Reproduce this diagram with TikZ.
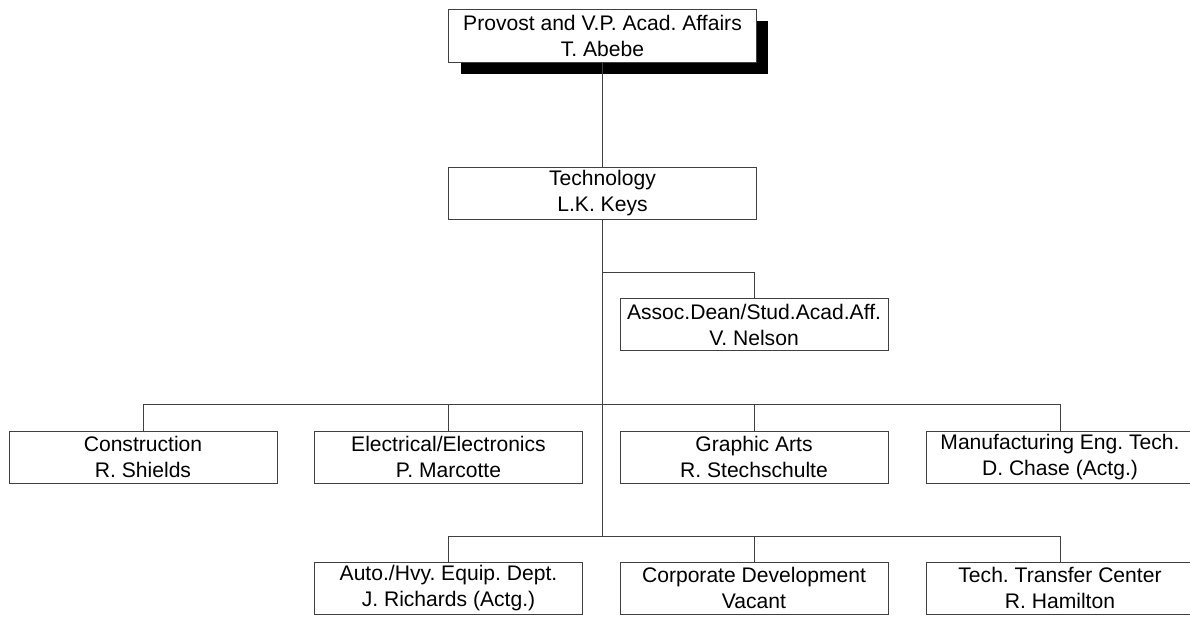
\documentclass[tikz,border=0pt]{standalone}
\usepackage{fontspec}
\setmainfont{Liberation Sans}
\usepackage{tikz}
\usetikzlibrary{shadows}
\frenchspacing

\begin{document}
\begin{tikzpicture}[
		orgbox/.style={rectangle,draw=black!75,line width=0.5pt,fill=white,align=center,
			inner sep=0pt,minimum width=5.36cm,minimum height=1.04cm,
			font=\fontsize{12}{14.8}\selectfont},
		widebox/.style={orgbox,minimum width=6.15cm},
		orgline/.style={draw=black!75,line width=0.5pt}
		]
		\useasboundingbox (0,0) rectangle (23.8,-12.34);
		
		\node[widebox, minimum height=1.06cm, drop shadow={shadow xshift=0.24cm,
		shadow yshift=-0.24cm, fill=black, opacity=1}](Provost) at (12.05,-0.71)
		{Provost and V.P. Acad. Affairs\\T. Abebe};
		\node[widebox, below of = Provost, yshift = -2.15cm](Tech){Technology\\L.K. Keys};
		\node[orgbox, below of = Tech, xshift = 3.03cm, yshift = -1.63cm](Assoc)
		{Assoc.Dean/Stud.Acad.Aff.\\V. Nelson};
		
		\node[orgbox, below of = Assoc, yshift = -1.65cm](Graphic){Graphic Arts\\R. Stechschulte};
		\node[orgbox, left of = Graphic, xshift = -5.11cm](Electrical){Electrical/Electronics\\P. Marcotte};
		\node[orgbox, left of = Electrical, xshift = -5.11cm](Construction){Construction\\R. Shields};
		\node[orgbox, right of = Graphic, xshift = 5.12cm](Manufacturing)
		{Manufacturing Eng. Tech.\\D. Chase (Actg.)};
		
		\node[orgbox, below of = Electrical, yshift = -1.62cm](Auto)
		{Auto./Hvy. Equip. Dept.\\J. Richards (Actg.)};
		\node[orgbox, below of = Graphic, yshift = -1.62cm](Corporate){Corporate Development\\Vacant};
		\node[orgbox, below of = Manufacturing, yshift = -1.62cm](Transfer)
		{Tech. Transfer Center\\R. Hamilton};
		
		% bus lines
		\coordinate[below of = Tech, yshift = -0.58cm](AssocBus);
		\coordinate[below of = Tech, yshift = -3.22cm](MidBus);
		\coordinate[below of = Tech, yshift = -5.86cm](LowBus);
		
		\draw[orgline] (Provost) -- (Tech);
		\draw[orgline] (Tech) -- (LowBus);
		\draw[orgline] (AssocBus) -| (Assoc);
		\foreach \unit in {Construction, Electrical, Graphic, Manufacturing}
			\draw[orgline] (MidBus) -| (\unit);
		\foreach \unit in {Auto, Corporate, Transfer}
			\draw[orgline] (LowBus) -| (\unit);
	\end{tikzpicture}
\end{document}
